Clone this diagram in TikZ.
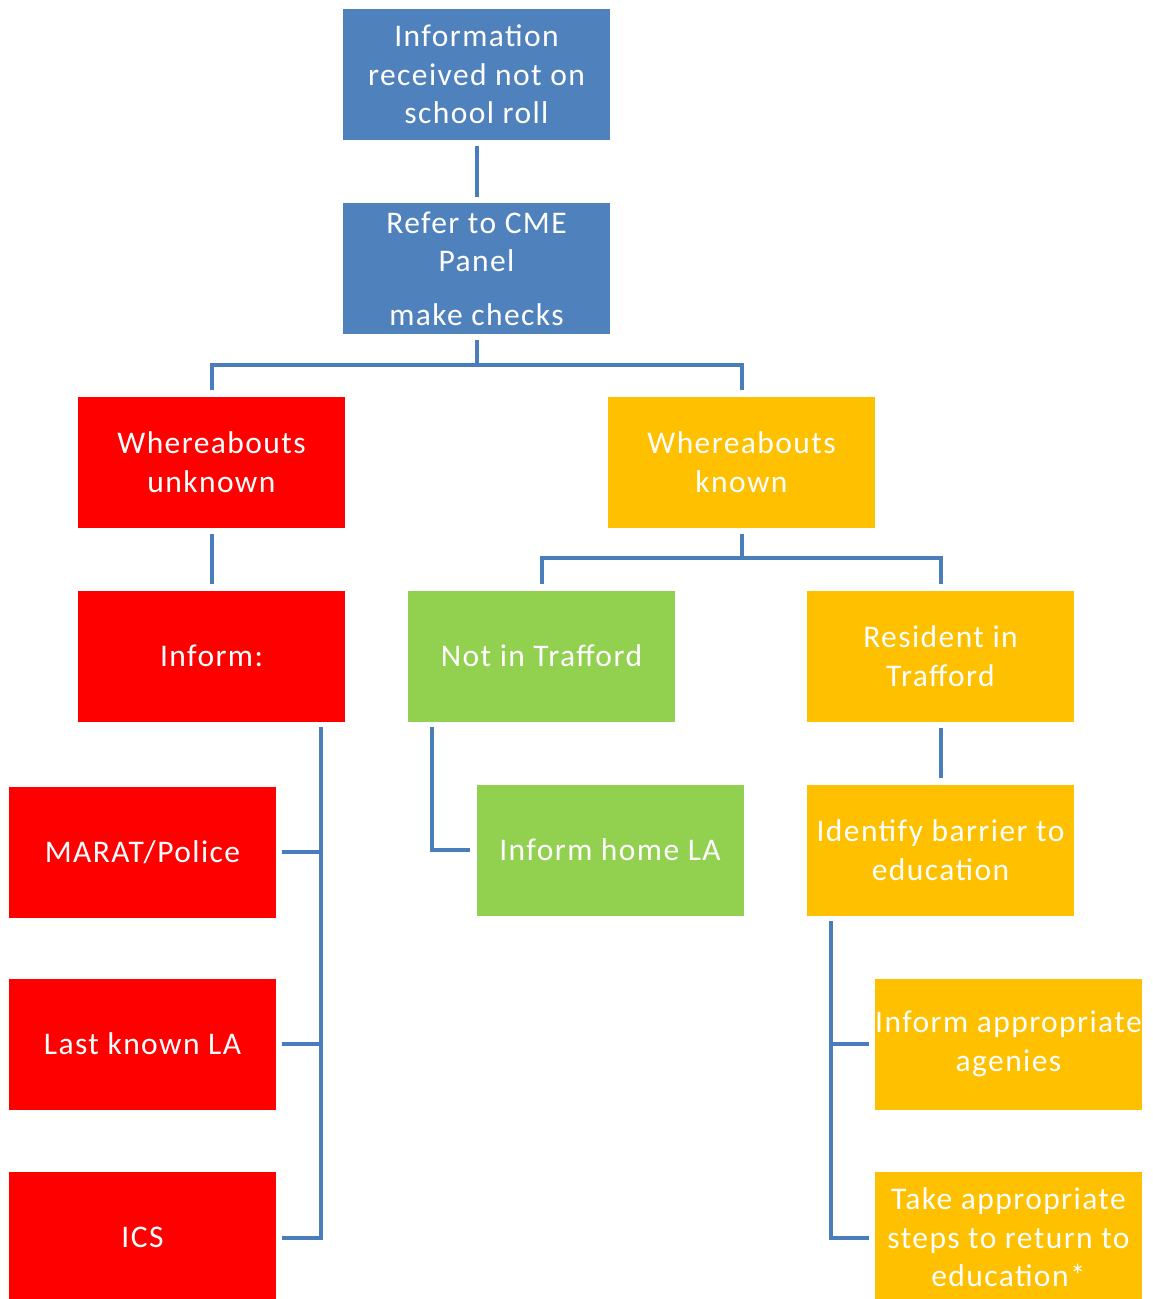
\documentclass[tikz,border=0pt]{standalone}
\usepackage{fontspec}
\setmainfont{Carlito}[LetterSpace=4.5]
\definecolor{cblue}{HTML}{4F81BD}
\definecolor{cred}{HTML}{FF0000}
\definecolor{corange}{HTML}{FFC000}
\definecolor{cgreen}{HTML}{92D050}
\definecolor{cline}{HTML}{4A7EBB}
\tikzset{
  box/.style={rectangle, minimum width=267pt, minimum height=131pt, inner sep=0pt,
    align=center, text=white, font=\fontsize{31.5}{38.5}\selectfont},
  bluebox/.style={box, fill=cblue},
  redbox/.style={box, fill=cred},
  orangebox/.style={box, fill=corange},
  greenbox/.style={box, fill=cgreen},
  conn/.style={draw=cline, line width=4pt}
}
\begin{document}
\begin{tikzpicture}[x=1pt,y=-1pt]
\useasboundingbox (0,0) rectangle (1152,1299);
\begin{scope}
\clip (0,0) rectangle (1152,1299);
\node[bluebox] (b1) at (476.5,74.5) {Information\\received not on\\school roll};
\node[bluebox] (b2) at (476.5,268.5) {Refer to CME\\Panel\\[15pt]make checks};
\node[redbox] (b3) at (211.5,462) {Whereabouts\\unknown};
\node[orangebox] (b4) at (741.5,462) {Whereabouts\\known};
\node[redbox] (b5) at (211.5,656) {Inform:};
\node[greenbox] (b6) at (541.5,656) {Not in Trafford};
\node[orangebox] (b7) at (940.5,656) {Resident in\\Trafford};
\node[redbox] (b8) at (142.5,852) {MARAT/Police};
\node[greenbox] (b9) at (610,850) {Inform home LA};
\node[orangebox] (b10) at (940.5,850) {Identify barrier to\\education};
\node[redbox] (b11) at (142.5,1044) {Last known LA};
\node[orangebox] (b12) at (1008.5,1044) {Inform appropriate\\agenies};
\node[redbox] (b13) at (142.5,1237.5) {ICS};
\node[orangebox] (b14) at (1008.5,1237.5) {Take appropriate\\steps to return to\\education*};
\end{scope}

% connectors
\draw[conn] ([yshift=-6pt]b1.south) -- ([yshift=6pt]b2.north);
\coordinate (j1) at (476.5,365);
\draw[conn] ([yshift=-6pt]b2.south) -- (j1);
\draw[conn] (j1) -| ([yshift=6pt]b3.north);
\draw[conn] (j1) -| ([yshift=6pt]b4.north);
\draw[conn] ([yshift=-6pt]b3.south) -- ([yshift=6pt]b5.north);
\coordinate (j2) at (741.5,558);
\draw[conn] ([yshift=-6pt]b4.south) -- (j2);
\draw[conn] (j2) -| ([yshift=6pt]b6.north);
\draw[conn] (j2) -| ([yshift=6pt]b7.north);
\draw[conn] ([yshift=-6pt]b7.south) -- ([yshift=6pt]b10.north);
% not in trafford -> inform home LA
\coordinate (m1) at (432,727);
\draw[conn] (m1) |- ([xshift=-6pt]b9.west);
% inform: -> list
\coordinate (l1) at (321,727);
\draw[conn] (l1) |- ([xshift=6pt]b13.east);
\draw[conn] ([xshift=6pt]b8.east) -- (b8.east -| l1);
\draw[conn] ([xshift=6pt]b11.east) -- (b11.east -| l1);
% identify barrier -> list
\coordinate (r1) at (831,921);
\draw[conn] (r1) |- ([xshift=-6pt]b14.west);
\draw[conn] ([xshift=-6pt]b12.west) -- (b12.west -| r1);
\end{tikzpicture}
\end{document}
